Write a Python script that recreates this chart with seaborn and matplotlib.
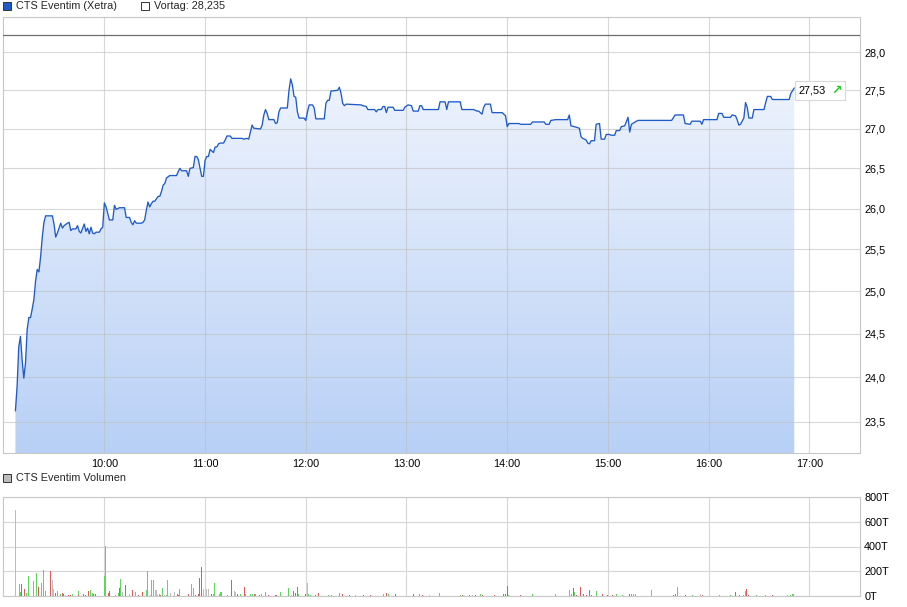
import numpy as np
import pandas as pd
import matplotlib
matplotlib.use("Agg")
import matplotlib.pyplot as plt
import seaborn as sns
from matplotlib.colors import LinearSegmentedColormap
from matplotlib.patches import Rectangle
from matplotlib.ticker import FixedLocator, FuncFormatter, NullLocator
from matplotlib.offsetbox import TextArea, HPacker, AnnotationBbox

# --- price (Xetra, intraday) ---
PRICE_TIME = [
    "09:07", "09:08", "09:09", "09:10", "09:11", "09:12", "09:13", "09:14", "09:15", "09:16",
    "09:17", "09:18", "09:19", "09:20", "09:21", "09:22", "09:23", "09:24", "09:25", "09:29",
    "09:30", "09:31", "09:32", "09:33", "09:34", "09:35", "09:36", "09:38", "09:39", "09:40",
    "09:41", "09:43", "09:44", "09:45", "09:46", "09:48", "09:49", "09:50", "09:51", "09:52",
    "09:53", "09:54", "09:55", "09:57", "09:58", "09:59",
    "10:00", "10:01", "10:02", "10:03", "10:05", "10:06", "10:07", "10:09", "10:12", "10:13",
    "10:15", "10:16", "10:17", "10:18", "10:19", "10:22", "10:23", "10:24", "10:25", "10:26",
    "10:27", "10:28", "10:29", "10:30", "10:32", "10:33", "10:34", "10:35", "10:36", "10:37",
    "10:39", "10:43", "10:44", "10:45", "10:46", "10:49", "10:50", "10:51", "10:53", "10:54",
    "10:55", "10:56", "10:57", "10:58", "10:59",
    "11:00", "11:01", "11:02", "11:03", "11:05", "11:06", "11:07", "11:08", "11:09", "11:11",
    "11:12", "11:13", "11:15", "11:16", "11:22", "11:23", "11:25", "11:26", "11:27", "11:28",
    "11:29", "11:33", "11:34", "11:35", "11:36", "11:37", "11:38", "11:41", "11:42", "11:43",
    "11:44", "11:45", "11:49", "11:50", "11:51", "11:52", "11:53", "11:54", "11:55", "11:56",
    "11:59",
    "12:00", "12:01", "12:02", "12:04", "12:05", "12:06", "12:11", "12:12", "12:13", "12:14",
    "12:15", "12:19", "12:20", "12:21", "12:22", "12:23", "12:24", "12:33", "12:34", "12:36",
    "12:37", "12:41", "12:42", "12:43", "12:45", "12:46", "12:47", "12:48", "12:49", "12:52",
    "12:53", "12:58", "12:59",
    "13:01", "13:03", "13:04", "13:07", "13:08", "13:09", "13:10", "13:19", "13:20", "13:23",
    "13:24", "13:25", "13:32", "13:33", "13:40", "13:42", "13:43", "13:45", "13:46", "13:47",
    "13:50", "13:51", "13:57", "13:59",
    "14:00", "14:01", "14:07", "14:08", "14:14", "14:15", "14:22", "14:23", "14:25", "14:26",
    "14:29", "14:36", "14:37", "14:38", "14:40", "14:43", "14:44", "14:45", "14:47", "14:48",
    "14:49", "14:50", "14:52", "14:53", "14:55", "14:56", "14:58", "14:59",
    "15:01", "15:02", "15:04", "15:05", "15:07", "15:08", "15:10", "15:12", "15:13", "15:14",
    "15:17", "15:18", "15:38", "15:40", "15:45", "15:46", "15:49", "15:50", "15:55", "15:56",
    "15:57",
    "16:05", "16:06", "16:08", "16:09", "16:13", "16:14", "16:16", "16:17", "16:18", "16:19",
    "16:21", "16:22", "16:23", "16:24", "16:26", "16:27", "16:33", "16:34", "16:35", "16:37",
    "16:38", "16:48", "16:49", "16:51",
]
PRICE = [
    23.62, 23.90, 24.35, 24.47, 24.20, 23.99, 24.16, 24.55, 24.69, 24.69,
    24.79, 24.90, 25.12, 25.26, 25.23, 25.41, 25.65, 25.83, 25.91, 25.91,
    25.81, 25.65, 25.70, 25.76, 25.82, 25.76, 25.79, 25.82, 25.83, 25.73,
    25.75, 25.75, 25.79, 25.72, 25.70, 25.81, 25.72, 25.76, 25.69, 25.77,
    25.70, 25.69, 25.71, 25.71, 25.75, 25.77,
    26.07, 26.02, 25.94, 25.86, 25.86, 26.04, 25.99, 26.01, 26.01, 25.89,
    25.89, 25.83, 25.80, 25.85, 25.82, 25.82, 25.83, 25.86, 25.98, 26.08,
    26.02, 26.06, 26.09, 26.09, 26.15, 26.15, 26.21, 26.29, 26.31, 26.38,
    26.41, 26.41, 26.46, 26.50, 26.47, 26.47, 26.40, 26.50, 26.51, 26.65,
    26.65, 26.61, 26.50, 26.40, 26.40,
    26.60, 26.65, 26.65, 26.74, 26.70, 26.77, 26.77, 26.81, 26.82, 26.82,
    26.86, 26.91, 26.91, 26.88, 26.88, 26.87, 26.88, 26.87, 26.96, 27.05,
    27.01, 27.00, 27.05, 27.18, 27.25, 27.20, 27.12, 27.12, 27.07, 27.08,
    27.22, 27.27, 27.27, 27.50, 27.65, 27.57, 27.42, 27.41, 27.22, 27.14,
    27.14,
    27.11, 27.22, 27.31, 27.31, 27.27, 27.13, 27.13, 27.33, 27.37, 27.37,
    27.49, 27.50, 27.54, 27.46, 27.33, 27.30, 27.32, 27.31, 27.30, 27.29,
    27.25, 27.25, 27.22, 27.25, 27.25, 27.29, 27.29, 27.21, 27.28, 27.28,
    27.24, 27.24, 27.28,
    27.31, 27.30, 27.23, 27.23, 27.30, 27.30, 27.25, 27.25, 27.35, 27.35,
    27.25, 27.35, 27.35, 27.25, 27.25, 27.23, 27.23, 27.19, 27.28, 27.32,
    27.32, 27.21, 27.21, 27.17,
    27.03, 27.07, 27.07, 27.06, 27.06, 27.09, 27.09, 27.06, 27.06, 27.11,
    27.12, 27.12, 27.18, 27.04, 27.03, 27.01, 26.90, 26.88, 26.86, 26.82,
    26.81, 26.85, 26.85, 27.06, 27.07, 26.87, 26.87, 26.93,
    26.93, 26.92, 26.92, 26.98, 26.98, 27.03, 27.04, 27.15, 26.96, 27.06,
    27.10, 27.11, 27.11, 27.18, 27.18, 27.07, 27.06, 27.10, 27.10, 27.06,
    27.12,
    27.12, 27.20, 27.20, 27.15, 27.15, 27.18, 27.17, 27.12, 27.05, 27.06,
    27.14, 27.34, 27.28, 27.14, 27.14, 27.25, 27.25, 27.34, 27.42, 27.42,
    27.38, 27.38, 27.46, 27.53,
]
VORTAG = 28.235

# --- volume (thousands of shares), direction: g up, r down, n unchanged ---
VOL_TIME = [
    "09:07:00", "09:09:00", "09:10:00", "09:10:30", "09:12:00", "09:13:30", "09:14:30", "09:17:30",
    "09:19:00", "09:19:30", "09:20:30", "09:22:30", "09:23:30", "09:24:30", "09:27:30", "09:29:00",
    "09:29:30", "09:30:30", "09:32:00", "09:33:30", "09:35:00", "09:35:30", "09:36:30", "09:38:30",
    "09:39:30", "09:41:00", "09:44:00", "09:44:30", "09:47:30", "09:48:30", "09:50:00", "09:50:30",
    "09:51:30", "09:52:30", "09:53:30", "09:54:30",
    "10:00:00", "10:00:30", "10:02:00", "10:03:00", "10:06:30", "10:08:00", "10:09:00", "10:09:30",
    "10:10:30", "10:12:00", "10:12:30", "10:14:30", "10:16:30", "10:18:00", "10:20:00", "10:22:30",
    "10:25:00", "10:25:30", "10:27:00", "10:28:00", "10:29:00", "10:30:00", "10:30:30", "10:31:30",
    "10:32:30", "10:33:00", "10:34:30", "10:35:30", "10:36:30", "10:37:30", "10:39:00", "10:41:30",
    "10:43:00", "10:44:00", "10:44:30", "10:50:00", "10:51:30", "10:53:00", "10:54:00", "10:55:30",
    "10:56:30", "10:57:30", "10:58:30", "10:59:00",
    "11:00:30", "11:02:00", "11:03:30", "11:04:30", "11:05:30", "11:08:00", "11:09:00", "11:09:30",
    "11:13:00", "11:15:30", "11:17:00", "11:18:00", "11:19:00", "11:21:00", "11:23:00", "11:24:00",
    "11:27:00", "11:28:00", "11:29:00", "11:30:00", "11:32:00", "11:33:30", "11:35:30", "11:37:30",
    "11:41:30", "11:42:30", "11:44:30", "11:49:30", "11:51:00", "11:52:30", "11:53:30", "11:55:00",
    "11:55:30", "11:59:30",
    "12:01:00", "12:01:30", "12:02:30", "12:05:30", "12:07:00", "12:13:30", "12:15:00", "12:20:00",
    "12:21:30", "12:26:00", "12:29:30", "12:34:00", "12:38:30", "12:46:00", "12:48:00", "12:49:00",
    "12:53:00",
    "13:04:00", "13:07:30", "13:09:30", "13:13:30", "13:19:30", "13:32:00", "13:33:00", "13:37:00",
    "13:39:00", "13:41:00", "13:44:00", "13:45:00", "13:52:00", "13:57:30", "13:58:30",
    "14:00:00", "14:00:30", "14:07:30", "14:15:00", "14:28:30", "14:37:00", "14:38:00", "14:39:00",
    "14:40:00", "14:41:00", "14:43:30", "14:45:00", "14:47:00", "14:49:00", "14:50:00", "14:53:00",
    "14:56:30", "14:59:30",
    "15:02:30", "15:05:00", "15:08:30", "15:12:30", "15:13:30", "15:15:00", "15:16:00", "15:25:30",
    "15:39:00", "15:40:00", "15:41:00", "15:46:00", "15:50:00", "15:55:00", "15:56:00",
    "16:06:00", "16:13:00", "16:16:00", "16:18:00", "16:20:30", "16:21:30", "16:22:30", "16:23:30",
    "16:28:30", "16:33:30", "16:37:30", "16:46:30", "16:48:30", "16:49:30", "16:50:30",
]
VOL_K = [
    696, 96, 35, 96, 56, 27, 160, 120,
    187, 35, 75, 104, 208, 43, 200, 128,
    56, 21, 43, 16, 27, 16, 8, 8,
    8, 16, 43, 8, 16, 8, 43, 21,
    48, 21, 16, 16,
    160, 408, 27, 43, 8, 21, 67, 136,
    35, 88, 27, 16, 48, 35, 8, 35,
    48, 200, 8, 133, 128, 48, 48, 8,
    13, 8, 67, 8, 8, 128, 27, 35,
    16, 8, 56, 16, 96, 61, 8, 16,
    147, 235, 8, 56,
    56, 56, 16, 16, 107, 16, 29, 35,
    8, 128, 40, 35, 16, 13, 75, 16,
    16, 16, 16, 16, 8, 16, 35, 8,
    8, 8, 35, 67, 8, 43, 21, 75,
    16, 16,
    107, 16, 8, 8, 27, 8, 8, 27,
    16, 8, 8, 8, 8, 16, 27, 13,
    16,
    16, 16, 8, 8, 27, 8, 8, 8,
    8, 8, 16, 8, 8, 16, 16,
    83, 8, 8, 16, 16, 48, 16, 61,
    35, 8, 75, 16, 8, 48, 8, 40,
    16, 8,
    8, 16, 8, 16, 16, 16, 16, 48,
    8, 16, 75, 8, 8, 16, 8,
    8, 8, 35, 8, 8, 40, 56, 8,
    8, 8, 8, 8, 8, 16, 16,
]
VOL_DIR = [
    "n", "g", "g", "r", "r", "g", "g", "g",
    "g", "g", "r", "g", "g", "g", "r", "n",
    "n", "r", "g", "g", "r", "r", "n", "r",
    "r", "g", "g", "r", "r", "r", "r", "r",
    "g", "g", "r", "r",
    "g", "g", "r", "r", "g", "g", "r", "g",
    "n", "r", "r", "n", "r", "g", "r", "r",
    "g", "g", "n", "g", "g", "n", "n", "n",
    "g", "r", "g", "n", "g", "g", "n", "n",
    "r", "r", "g", "r", "g", "g", "r", "r",
    "r", "r", "r", "n",
    "n", "n", "r", "g", "g", "g", "g", "g",
    "g", "r", "n", "n", "r", "g", "r", "g",
    "g", "g", "r", "g", "r", "g", "g", "r",
    "r", "r", "g", "g", "n", "r", "r", "r",
    "g", "r",
    "n", "g", "g", "r", "r", "g", "g", "g",
    "r", "r", "n", "r", "r", "g", "r", "g",
    "r",
    "r", "g", "r", "n", "g", "g", "r", "r",
    "n", "r", "g", "r", "r", "r", "r",
    "r", "g", "r", "g", "g", "g", "g", "r",
    "g", "r", "r", "r", "r", "r", "r", "g",
    "r", "r",
    "r", "g", "g", "r", "g", "g", "g", "g",
    "r", "r", "g", "r", "g", "n", "r",
    "g", "g", "r", "r", "g", "g", "r", "r",
    "g", "g", "r", "g", "g", "g", "g",
]

HOUR_TICKS = ["10:00", "11:00", "12:00", "13:00", "14:00", "15:00", "16:00", "17:00"]
PRICE_TICKS = [23.5, 24.0, 24.5, 25.0, 25.5, 26.0, 26.5, 27.0, 27.5, 28.0]
VOL_TICKS = [0, 200, 400, 600, 800]

LINE = "#1F5BC8"
DIR_COLORS = {"g": "#5FD65F", "r": "#DA5B5B", "n": "#BDBDBD"}
GRID = "#D6D6D6"
EDGE = "#C8C8C8"


def to_min(t):
    parts = [int(p) for p in t.split(":")]
    m = (parts[0] - 9) * 60 + parts[1]
    if len(parts) == 3:
        m += parts[2] / 60
    return m


price = pd.DataFrame({"t": [to_min(t) for t in PRICE_TIME], "p": PRICE})
vol = pd.DataFrame({"t": [to_min(t) for t in VOL_TIME], "v": VOL_K, "dir": VOL_DIR})
hour_pos = [to_min(t) for t in HOUR_TICKS]

sns.set_theme(style="white")
plt.rcParams["font.family"] = ["Liberation Sans", "DejaVu Sans"]
plt.rcParams["font.size"] = 7.8

W, H = 907, 607
X_MIN, X_MAX = -0.4, 510.2
Y_MIN, Y_MAX = 23.153, 28.473

fig = plt.figure(figsize=(W / 100, H / 100), dpi=100)
fig.patch.set_facecolor("white")


def box(left, top, right, bottom):
    return [left / W, 1 - bottom / H, (right - left) / W, (bottom - top) / H]


ax = fig.add_axes(box(3, 17, 860, 453))
axv = fig.add_axes(box(3, 497, 860, 596))

# price panel
sns.lineplot(data=price, x="t", y="p", ax=ax, color=LINE, linewidth=0.95, zorder=4)
ax.set_yscale("log")
ax.set_xlim(X_MIN, X_MAX)
ax.set_ylim(Y_MIN, Y_MAX)

fill = ax.fill_between(price["t"], price["p"], Y_MIN, facecolor="none", edgecolor="none")
grad = np.linspace(0, 1, 256).reshape(-1, 1)
cmap = LinearSegmentedColormap.from_list("fade", ["#B8D0F6", "#F7F9FE"])
im = ax.imshow(grad, cmap=cmap, origin="lower", aspect="auto",
               extent=[0, 1, 0, 1], transform=ax.transAxes, zorder=2)
im.set_clip_path(fill.get_paths()[0], ax.transData)

ax.axhline(VORTAG, color="#6E6E6E", linewidth=0.9, zorder=3)

ax.set_xlim(X_MIN, X_MAX)
ax.set_ylim(Y_MIN, Y_MAX)
ax.yaxis.set_major_locator(FixedLocator(PRICE_TICKS))
ax.yaxis.set_minor_locator(NullLocator())
ax.yaxis.set_major_formatter(FuncFormatter(lambda v, _: f"{v:.1f}".replace(".", ",")))
ax.yaxis.tick_right()
ax.set_xticks(hour_pos)
ax.set_xticklabels(HOUR_TICKS)
ax.set_xlabel("")
ax.set_ylabel("")
ax.set_axisbelow(False)
ax.grid(True, color="#BEBEBE", alpha=0.6, linewidth=0.8)
ax.tick_params(axis="y", length=0, pad=3, labelsize=7.8, colors="black")
ax.tick_params(axis="x", length=2, pad=2, labelsize=7.8, color=EDGE, labelcolor="black")
for s in ax.spines.values():
    s.set_color(EDGE)
    s.set_linewidth(0.8)

# last price label
last_t, last_p = price["t"].iloc[-1], price["p"].iloc[-1]
label = HPacker(children=[
    TextArea(f"{last_p:.2f}".replace(".", ","), textprops=dict(size=7.8, color="black")),
    TextArea("\u2197", textprops=dict(size=9, color="#22CC22", fontweight="bold",
                                      family="DejaVu Sans")),
], sep=4, pad=0, align="center")
ab = AnnotationBbox(label, (last_t, last_p), xybox=(3, -1.8), xycoords="data",
                    boxcoords="offset points", box_alignment=(0, 0.5), frameon=True,
                    pad=0.22, bboxprops=dict(edgecolor="#D8D8D8", facecolor="white", linewidth=0.8),
                    zorder=6)
ax.add_artist(ab)

# volume panel
axv.vlines(vol["t"], 0, vol["v"], colors=vol["dir"].map(DIR_COLORS), linewidth=0.55,
           antialiased=False, zorder=3)
axv.set_xlim(X_MIN, X_MAX)
axv.set_ylim(0, 800)
axv.set_xticks(hour_pos)
axv.set_yticks(VOL_TICKS)
axv.set_yticklabels([f"{v}T" for v in VOL_TICKS])
axv.yaxis.tick_right()
axv.grid(True, color=GRID, linewidth=0.8)
axv.set_axisbelow(True)
axv.tick_params(axis="y", length=0, pad=3, labelsize=7.8, colors="black")
axv.tick_params(axis="x", length=0, labelbottom=False)
for s in axv.spines.values():
    s.set_color(EDGE)
    s.set_linewidth(0.8)

# header legends
def legend_item(x, y, face, text):
    fig.add_artist(Rectangle(((x) / W, 1 - (y + 4) / H), 8 / W, 8 / H,
                             transform=fig.transFigure, facecolor=face,
                             edgecolor="#333333", linewidth=0.7))
    fig.text((x + 12.5) / W, 1 - y / H, text, ha="left", va="center", fontsize=7.8)


legend_item(3, 6, LINE, "CTS Eventim (Xetra)")
legend_item(141, 6, "white", "Vortag: 28,235")
legend_item(3, 478, "#BDBDBD", "CTS Eventim Volumen")

fig.savefig("out.png", dpi=100)
